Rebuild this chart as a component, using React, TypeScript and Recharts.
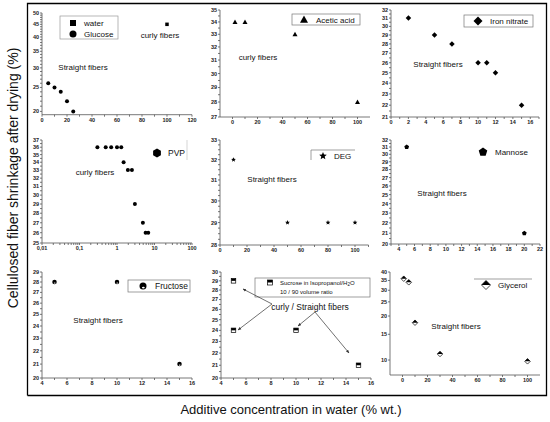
import React from 'react';
import { ScatterChart, Scatter, XAxis, YAxis } from 'recharts';

// ---------- data ----------
const waterData = [{ x: 100, y: 45 }];
const glucoseData = [
  { x: 5, y: 26 }, { x: 10, y: 25 }, { x: 15, y: 24 }, { x: 20, y: 22 }, { x: 25, y: 20 },
];
const aceticData = [{ x: 2, y: 34 }, { x: 10, y: 34 }, { x: 50, y: 33 }, { x: 100, y: 28 }];
const ironData = [
  { x: 2, y: 31 }, { x: 5, y: 29 }, { x: 7, y: 28 }, { x: 10, y: 26 }, { x: 11, y: 26 },
  { x: 12, y: 25 }, { x: 15, y: 22 },
];
const pvpData = [
  { x: 0.3, y: 36 }, { x: 0.5, y: 36 }, { x: 0.7, y: 36 }, { x: 1, y: 36 }, { x: 1.3, y: 36 },
  { x: 1.5, y: 34 }, { x: 1.95, y: 33 }, { x: 2.5, y: 33 }, { x: 3, y: 29 }, { x: 4.9, y: 27 },
  { x: 5.8, y: 26 }, { x: 6.8, y: 26 },
];
const degData = [{ x: 10, y: 32 }, { x: 50, y: 29 }, { x: 80, y: 29 }, { x: 100, y: 29 }];
const mannoseData = [{ x: 5, y: 31 }, { x: 20, y: 21 }];
const fructoseData = [{ x: 5, y: 28 }, { x: 10, y: 28 }, { x: 15, y: 21 }];
const sucroseData = [{ x: 5, y: 29 }, { x: 5, y: 24 }, { x: 10, y: 24 }, { x: 15, y: 21 }];
const glycerolData = [{ x: 1, y: 36 }, { x: 5, y: 34 }, { x: 10, y: 18 }, { x: 30, y: 11 }, { x: 100, y: 9.8 }];

// ---------- ticks ----------
const p1XMajor = [0, 20, 40, 60, 80, 100, 120];
const p1YMajor = [20, 25, 30, 35, 40, 45, 50];
const p2XMajor = [0, 20, 40, 60, 80, 100];
const p2YMajor = [27, 28, 29, 30, 31, 32, 33, 34, 35];
const p3XMajor = [0, 2, 4, 6, 8, 10, 12, 14, 16];
const p3YMajor = [21, 22, 23, 24, 25, 26, 27, 28, 29, 30, 31, 32];
const p4XMajor = [0.01, 0.1, 1, 10, 100];
const p4XLabels = ['0,01', '0,1', '1', '10', '100'];
const p4YMajor = [25, 26, 27, 28, 29, 30, 31, 32, 33, 34, 35, 36, 37];
const p5XMajor = [0, 20, 40, 60, 80, 100];
const p5YMajor = [28, 29, 30, 31, 32, 33];
const p6XMajor = [4, 6, 8, 10, 12, 14, 16, 18, 20, 22];
const p6YMajor = [20, 21, 22, 23, 24, 25, 26, 27, 28, 29, 30, 31, 32];
const p7XMajor = [4, 6, 8, 10, 12, 14, 16];
const p7YMajor = [20, 21, 22, 23, 24, 25, 26, 27, 28, 29];
const p8XMajor = [4, 6, 8, 10, 12, 14, 16];
const p8YMajor = [20, 21, 22, 23, 24, 25, 26, 27, 28, 29, 30];
const p9XMajor = [0, 20, 40, 60, 80, 100];
const p9YMajor = [10, 15, 20, 25, 30, 35, 40];

const range = (a: number, b: number, s: number) => {
  const out: number[] = [];
  const n = Math.round((b - a) / s);
  for (let i = 0; i <= n; i++) out.push(Math.round((a + i * s) * 1000) / 1000);
  return out;
};
const logMinor = (lo: number, hi: number) => {
  const out: number[] = [];
  for (let d = lo; d < hi; d *= 10) for (let k = 1; k < 10; k++) out.push(Math.round(d * k * 10000) / 10000);
  out.push(hi);
  return out;
};

type Kind =
  | 'square' | 'circle' | 'triangle' | 'diamond' | 'hexagon' | 'star' | 'pentagon'
  | 'halfCircle' | 'halfSquare' | 'halfDiamond';

const poly = (cx: number, cy: number, r: number, n: number, start: number) => {
  const pts: string[] = [];
  for (let i = 0; i < n; i++) {
    const a = start + (i * 2 * Math.PI) / n;
    pts.push(`${cx + r * Math.cos(a)},${cy + r * Math.sin(a)}`);
  }
  return pts.join(' ');
};

function marker(kind: Kind, cx: number, cy: number, s: number) {
  const h = s / 2;
  switch (kind) {
    case 'square':
      return <rect x={cx - h} y={cy - h} width={s} height={s} fill="#000" />;
    case 'circle':
      return <circle cx={cx} cy={cy} r={h} fill="#000" />;
    case 'triangle':
      return <polygon points={`${cx},${cy - h} ${cx + h},${cy + h * 0.8} ${cx - h},${cy + h * 0.8}`} fill="#000" />;
    case 'diamond':
      return <polygon points={`${cx},${cy - h} ${cx + h},${cy} ${cx},${cy + h} ${cx - h},${cy}`} fill="#000" />;
    case 'hexagon':
      return <polygon points={poly(cx, cy, h, 6, Math.PI / 6)} fill="#000" />;
    case 'pentagon':
      return <polygon points={poly(cx, cy, h, 5, -Math.PI / 2)} fill="#000" />;
    case 'star': {
      const pts: string[] = [];
      for (let i = 0; i < 10; i++) {
        const a = -Math.PI / 2 + (i * Math.PI) / 5;
        const r = i % 2 === 0 ? h : h * 0.45;
        pts.push(`${cx + r * Math.cos(a)},${cy + r * Math.sin(a)}`);
      }
      return <polygon points={pts.join(' ')} fill="#000" />;
    }
    case 'halfCircle':
      return (
        <g>
          <circle cx={cx} cy={cy} r={h} fill="#000" />
          <ellipse cx={cx + h * 0.1} cy={cy + h * 0.45} rx={h * 0.4} ry={h * 0.25} fill="#fff" />
        </g>
      );
    case 'halfSquare':
      return (
        <g>
          <rect x={cx - h} y={cy - h} width={s} height={s} fill="#fff" stroke="#000" strokeWidth={0.7} />
          <rect x={cx - h} y={cy - h} width={s} height={h} fill="#000" />
        </g>
      );
    case 'halfDiamond':
      return (
        <g>
          <polygon points={`${cx},${cy - h} ${cx + h},${cy} ${cx},${cy + h} ${cx - h},${cy}`} fill="#fff" stroke="#000" strokeWidth={0.7} />
          <polygon points={`${cx},${cy - h} ${cx + h},${cy} ${cx - h},${cy}`} fill="#000" />
        </g>
      );
  }
  return null;
}

type Series = { data: { x: number; y: number }[]; kind: Kind; size: number };
type Cfg = {
  axisX: number; right: number; top: number; bottom: number;
  xDomain: [number, number]; yDomain: [number, number];
  xLog?: boolean; xTicks: number[]; xMajor: number[]; xLabels?: string[];
  yTicks: number[]; yMajor: number[];
  series: Series[];
};

const isIn = (arr: number[], v: number) => arr.findIndex((m) => Math.abs(m - v) < 1e-6);
const tickStyle = { fontSize: 5.5, fill: '#222', fontWeight: 700, fontFamily: 'Arial, Liberation Sans, sans-serif' };

function Panel({ cfg }: { cfg: Cfg }) {
  const YW = 16, XH = 12, MT = 4, MR = 6;
  const width = YW + (cfg.right - cfg.axisX) + MR;
  const height = MT + (cfg.bottom - cfg.top) + XH;
  return (
    <div style={{ position: 'absolute', left: cfg.axisX - YW, top: cfg.top - MT }}>
      <ScatterChart width={width} height={height} margin={{ top: MT, right: MR, bottom: 0, left: 0 }}>
        <XAxis
          type="number" dataKey="x" domain={cfg.xDomain} scale={cfg.xLog ? 'log' : 'linear'}
          ticks={cfg.xTicks} interval={0} allowDataOverflow height={XH} tickSize={2} tickMargin={1}
          tick={tickStyle} stroke="#555" strokeWidth={0.8}
          tickFormatter={(v: number) => {
            const i = isIn(cfg.xMajor, v);
            if (i < 0) return '';
            return cfg.xLabels ? cfg.xLabels[i] : String(v);
          }}
        />
        <YAxis
          type="number" dataKey="y" domain={cfg.yDomain} scale="log" ticks={cfg.yTicks} interval={0}
          allowDataOverflow width={YW} tickSize={2} tickMargin={1} tick={tickStyle} stroke="#555" strokeWidth={0.8}
          tickFormatter={(v: number) => (isIn(cfg.yMajor, v) < 0 ? '' : String(v))}
        />
        {cfg.series.map((s, i) => (
          <Scatter
            key={i} data={s.data} isAnimationActive={false}
            shape={(p: any) => marker(s.kind, p.cx, p.cy, s.size)}
          />
        ))}
      </ScatterChart>
    </div>
  );
}

const panels: Cfg[] = [
  {
    axisX: 42, right: 192, top: 13.3, bottom: 115, xDomain: [0, 120], yDomain: [19.4, 50],
    xTicks: range(0, 120, 10), xMajor: p1XMajor, yTicks: range(20, 50, 1), yMajor: p1YMajor,
    series: [
      { data: waterData, kind: 'square', size: 3.5 },
      { data: glucoseData, kind: 'circle', size: 4 },
    ],
  },
  {
    axisX: 220, right: 370, top: 10, bottom: 117, xDomain: [-10, 110], yDomain: [27, 35],
    xTicks: range(0, 100, 10), xMajor: p2XMajor, yTicks: range(27, 35, 0.5), yMajor: p2YMajor,
    series: [{ data: aceticData, kind: 'triangle', size: 5 }],
  },
  {
    axisX: 391, right: 539, top: 10, bottom: 117, xDomain: [0, 17], yDomain: [21, 32],
    xTicks: range(0, 17, 1), xMajor: p3XMajor, yTicks: range(21, 32, 0.5), yMajor: p3YMajor,
    series: [{ data: ironData, kind: 'diamond', size: 5.5 }],
  },
  {
    axisX: 42, right: 192, top: 140, bottom: 243, xDomain: [0.01, 100], yDomain: [25, 37], xLog: true,
    xTicks: logMinor(0.01, 100), xMajor: p4XMajor, xLabels: p4XLabels, yTicks: range(25, 37, 0.5), yMajor: p4YMajor,
    series: [{ data: pvpData, kind: 'circle', size: 4 }],
  },
  {
    axisX: 220, right: 368.5, top: 140, bottom: 245, xDomain: [0, 110], yDomain: [28, 33],
    xTicks: range(0, 110, 10), xMajor: p5XMajor, yTicks: range(28, 33, 0.25), yMajor: p5YMajor,
    series: [{ data: degData, kind: 'star', size: 5 }],
  },
  {
    axisX: 391, right: 540, top: 140, bottom: 244, xDomain: [3, 22], yDomain: [20, 32],
    xTicks: range(3, 22, 1), xMajor: p6XMajor, yTicks: range(20, 32, 0.5), yMajor: p6YMajor,
    series: [{ data: mannoseData, kind: 'pentagon', size: 5 }],
  },
  {
    axisX: 42, right: 192, top: 272, bottom: 378, xDomain: [4, 16], yDomain: [20, 29],
    xTicks: range(4, 16, 1), xMajor: p7XMajor, yTicks: range(20, 29, 0.5), yMajor: p7YMajor,
    series: [{ data: fructoseData, kind: 'halfCircle', size: 4.5 }],
  },
  {
    axisX: 221, right: 371, top: 272, bottom: 378, xDomain: [4, 16], yDomain: [20, 30],
    xTicks: range(4, 16, 1), xMajor: p8XMajor, yTicks: range(20, 30, 0.5), yMajor: p8YMajor,
    series: [{ data: sucroseData, kind: 'halfSquare', size: 4.5 }],
  },
  {
    axisX: 389.5, right: 539.5, top: 272, bottom: 375, xDomain: [-10, 110], yDomain: [7.9, 40],
    xTicks: range(0, 100, 10), xMajor: p9XMajor, yTicks: p9YMajor, yMajor: p9YMajor,
    series: [{ data: glycerolData, kind: 'halfDiamond', size: 5.5 }],
  },
];

const FONT = 'Arial, "Liberation Sans", sans-serif';

function Note({ x, y, text, size = 8 }: { x: number; y: number; text: string; size?: number }) {
  return (
    <text x={x} y={y + size * 0.35} fontSize={size} fontFamily={FONT} fill="#111" textAnchor="middle">
      {text}
    </text>
  );
}
function LegText({ x, y, text, size = 8 }: { x: number; y: number; text: string; size?: number }) {
  return (
    <text x={x} y={y + size * 0.35} fontSize={size} fontFamily={FONT} fill="#111">
      {text}
    </text>
  );
}

export default function App() {
  return (
    <div style={{ position: 'absolute', left: 0, top: 0, width: 550, height: 422, background: '#fff', overflow: 'hidden' }}>
      {panels.map((p, i) => (
        <Panel key={i} cfg={p} />
      ))}
      <svg width={550} height={422} style={{ position: 'absolute', left: 0, top: 0, pointerEvents: 'none' }}>
        <defs>
          <marker id="arr" viewBox="0 0 10 10" refX="9" refY="5" markerWidth="5" markerHeight="5" orient="auto-start-reverse">
            <path d="M0,1 L10,5 L0,9 z" fill="#333" />
          </marker>
        </defs>
        {/* frame */}
        <polyline points="27.5,395.5 27.5,3.5 546.5,3.5 546.5,395.5 27.5,395.5" fill="none" stroke="#000" strokeWidth={1.3} />

        {/* axis titles */}
        <text x={13} y={178} fontSize={14} fontFamily={FONT} fill="#111" textAnchor="middle" transform="rotate(-90 13 178) translate(0 4.8)">
          Cellulosed fiber shrinkage after drying (%)
        </text>
        <text x={291} y={414} fontSize={13} fontFamily={FONT} fill="#111" textAnchor="middle">
          Additive concentration in water (% wt.)
        </text>

        {/* panel 1 */}
        <rect x={60} y={16} width={58} height={23} fill="none" stroke="#999" strokeWidth={0.7} />
        {marker('square', 73, 23, 6)}
        <LegText x={84} y={23} text="water" />
        {marker('circle', 73, 34, 7)}
        <LegText x={84} y={34} text="Glucose" />
        <Note x={160} y={35} text="curly fibers" />
        <Note x={83} y={67} text="Straight fibers" />

        {/* panel 2 */}
        <rect x={292} y={14} width={68} height={11} fill="#fff" stroke="#777" strokeWidth={0.7} />
        {marker('triangle', 304, 19.5, 8)}
        <LegText x={316} y={20} text="Acetic acid" />
        <Note x={258} y={57} text="curly fibers" />

        {/* panel 3 */}
        <rect x={464} y={15} width={69} height={12} fill="#fff" stroke="#777" strokeWidth={0.7} />
        {marker('diamond', 478, 21, 9)}
        <LegText x={490} y={21} text="Iron nitrate" />
        <Note x={438} y={64} text="Straight fibers" />

        {/* panel 4 */}
        <line x1={187} y1={140} x2={187} y2={160} stroke="#bbb" strokeWidth={0.6} />
        {marker('hexagon', 157, 153, 9)}
        <LegText x={168} y={153} text="PVP" size={8.5} />
        <Note x={95} y={172} text="curly fibers" />

        {/* panel 5 */}
        <polyline points="311,160 311,150 355,150" fill="none" stroke="#777" strokeWidth={0.7} />
        {marker('star', 323, 156, 8)}
        <LegText x={334} y={156} text="DEG" />
        <Note x={272} y={179} text="Straight fibers" />

        {/* panel 6 */}
        {marker('pentagon', 483, 152, 9)}
        <LegText x={495} y={152} text="Mannose" />
        <Note x={442} y={193} text="Straight fibers" />

        {/* panel 7 */}
        <rect x={128} y={280} width={62} height={12} fill="#fff" stroke="#777" strokeWidth={0.7} />
        {marker('halfCircle', 143, 286, 7)}
        <LegText x={155} y={286} text="Fructose" size={8.5} />
        <Note x={98} y={320} text="Straight fibers" />

        {/* panel 8 */}
        <rect x={255} y={278} width={115} height={19} fill="#fff" stroke="#777" strokeWidth={0.7} />
        {marker('halfSquare', 270, 282.5, 5)}
        <text x={280} y={284.5} fontSize={6} fontFamily={FONT} fill="#111">
          Sucrose in Isopropanol/H<tspan fontSize={4.5} dy={1.5}>2</tspan><tspan dy={-1.5}>O</tspan>
        </text>
        <text x={280} y={294} fontSize={6} fontFamily={FONT} fill="#111">10 / 90 volume ratio</text>
        <Note x={310} y={307} text="curly / Straight fibers" size={8.5} />
        <line x1={272} y1={304} x2={243} y2={289} stroke="#333" strokeWidth={0.7} markerEnd="url(#arr)" />
        <line x1={272} y1={304} x2={238} y2={330} stroke="#333" strokeWidth={0.7} markerEnd="url(#arr)" />
        <line x1={315} y1={312} x2={298} y2={326} stroke="#333" strokeWidth={0.7} markerEnd="url(#arr)" />
        <line x1={315} y1={312} x2={349} y2={353} stroke="#333" strokeWidth={0.7} markerEnd="url(#arr)" />

        {/* panel 9 */}
        <line x1={474} y1={279} x2={532} y2={279} stroke="#777" strokeWidth={0.7} />
        {marker('halfDiamond', 486, 285, 9)}
        <LegText x={498} y={285} text="Glycerol" />
        <Note x={456} y={326} text="Straight fibers" />
      </svg>
    </div>
  );
}
